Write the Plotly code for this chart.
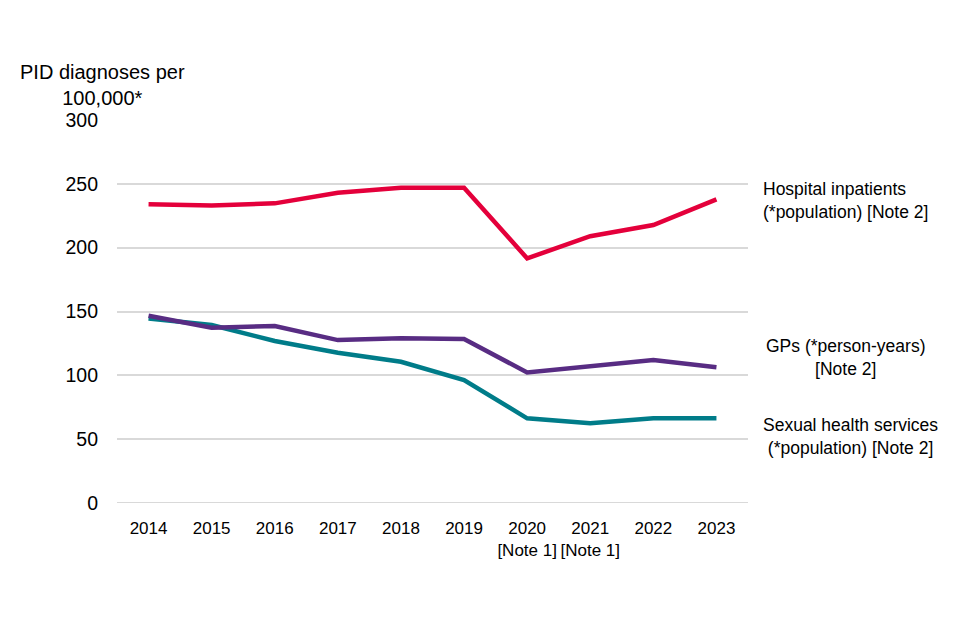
import plotly.graph_objects as go

years = ["2014", "2015", "2016", "2017", "2018", "2019", "2020", "2021", "2022", "2023"]
tick_labels = ["2014", "2015", "2016", "2017", "2018", "2019", "2020<br>[Note 1]", "2021<br>[Note 1]", "2022", "2023"]
hospital = [234, 233, 234.7, 243, 247, 247, 191.6, 209, 217.7, 237.8]
gps = [146.7, 137.3, 138.6, 127.6, 129, 128.4, 102.3, 107.3, 112, 106.3]
sexual = [144.6, 139.4, 126.9, 117.7, 110.6, 96.3, 66.3, 62.4, 66.3, 66.3]

series_names = ["Hospital inpatients<br>(*population) [Note 2]",
                "GPs (*person-years)<br>[Note 2]",
                "Sexual health services<br>(*population) [Note 2]"]
colors = ["#E4003B", "#582C83", "#007C89"]

FONT = "Liberation Sans Narrow, Arial Narrow, Liberation Sans, Arial, sans-serif"
FONT2 = "Liberation Sans, Arial, sans-serif"

# page has an 8px body offset; compensate in margins
L, T = 109, 112
PW, PH = 631, 383

fig = go.Figure()
for vals, c in [(sexual, colors[2]), (gps, colors[1]), (hospital, colors[0])]:
    fig.add_trace(go.Scatter(x=years, y=vals, mode="lines",
                             line=dict(color=c, width=4.5), showlegend=False))

fig.update_layout(
    width=960, height=640,
    margin=dict(l=L, r=960 - L - PW, t=T, b=640 - T - PH),
    paper_bgcolor="white", plot_bgcolor="white",
    font=dict(family=FONT, size=16, color="#000000"),
)
fig.update_xaxes(type="category", tickvals=years, ticktext=tick_labels,
                 range=[-0.5, 9.5], showgrid=False, showline=False, zeroline=False,
                 ticks="", tickfont=dict(size=17, family=FONT), ticklabelstandoff=13,
                 automargin=False)
fig.update_yaxes(range=[0, 300], tickvals=[0, 50, 100, 150, 200, 250, 300],
                 showgrid=True, gridcolor="#d9d9d9", gridwidth=1.8,
                 zeroline=False, showline=False, ticks="",
                 tickfont=dict(size=19.5, family=FONT2),
                 ticklabelstandoff=18, automargin=False)

fig.add_shape(type="line", xref="paper", yref="y", x0=0, x1=1, y0=0, y1=0,
              line=dict(color="#d9d9d9", width=1.8), layer="below")

fig.add_annotation(text="PID diagnoses per<br>100,000*", xref="paper", yref="paper",
                   x=(94 - L) / PW, y=1.0, yshift=9, xanchor="center", yanchor="bottom",
                   showarrow=False, align="center",
                   font=dict(size=20, family=FONT2))

fig.add_annotation(text=series_names[0], xref="paper", yref="paper",
                   x=(753 - L) / PW, y=(495 - 192) / PH, xanchor="left", yanchor="middle",
                   showarrow=False, align="left", font=dict(size=17.5))
fig.add_annotation(text=series_names[1], xref="paper", yref="paper",
                   x=(838 - L) / PW, y=(495 - 349) / PH, xanchor="center", yanchor="middle",
                   showarrow=False, align="center", font=dict(size=17.5))
fig.add_annotation(text=series_names[2], xref="paper", yref="paper",
                   x=(842 - L) / PW, y=(495 - 428) / PH, xanchor="center", yanchor="middle",
                   showarrow=False, align="center", font=dict(size=17.5))

fig.write_html("out.html")
